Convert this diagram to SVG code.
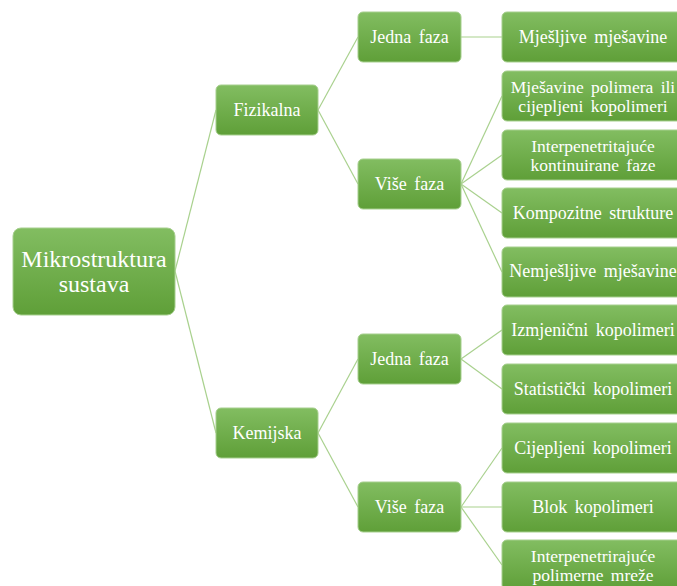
<svg xmlns="http://www.w3.org/2000/svg" width="677" height="586" viewBox="0 0 677 586">
<defs>
<linearGradient id="g" x1="0" y1="0" x2="0" y2="1">
<stop offset="0" stop-color="#82bd61"/>
<stop offset="1" stop-color="#5f9f38"/>
</linearGradient>
<style>
.n{fill:url(#g);stroke:#a6cf8e;stroke-width:1}
text{font-family:'Liberation Serif','Times New Roman',serif;fill:#fff;text-anchor:middle;font-size:18px;word-spacing:3px}
.d{font-size:17.5px}
.r{font-size:24px;word-spacing:0}
#connectors line{stroke:#a9d18e;stroke-width:1.2}
</style>
</defs>
<rect width="677" height="586" fill="#fff"/>
<g id="connectors">
<line x1="175" y1="271" x2="216" y2="110"/>
<line x1="175" y1="271" x2="216" y2="433"/>
<line x1="318" y1="110" x2="358" y2="37"/>
<line x1="318" y1="110" x2="358" y2="184"/>
<line x1="318" y1="433" x2="358" y2="359"/>
<line x1="318" y1="433" x2="358" y2="507"/>
<line x1="461" y1="37" x2="502" y2="37"/>
<line x1="461" y1="184" x2="502" y2="96"/>
<line x1="461" y1="184" x2="502" y2="155"/>
<line x1="461" y1="184" x2="502" y2="213"/>
<line x1="461" y1="184" x2="502" y2="272"/>
<line x1="461" y1="359" x2="502" y2="330"/>
<line x1="461" y1="359" x2="502" y2="389"/>
<line x1="461" y1="507" x2="502" y2="448"/>
<line x1="461" y1="507" x2="502" y2="507"/>
<line x1="461" y1="507" x2="502" y2="565"/>
</g>
<g id="root"><rect class="n" x="13" y="228" width="162" height="87" rx="8"/><text class="r" x="94" y="267">Mikrostruktura</text><text class="r" x="94" y="292">sustava</text></g>
<g id="fizikalna"><rect class="n" x="216" y="85" width="102" height="50" rx="5"/><text x="267" y="116">Fizikalna</text></g>
<g id="kemijska"><rect class="n" x="216" y="408" width="102" height="50" rx="5"/><text x="267" y="439">Kemijska</text></g>
<g id="f-jedna"><rect class="n" x="358" y="12" width="103" height="50" rx="5"/><text x="409.5" y="43">Jedna faza</text></g>
<g id="f-vise"><rect class="n" x="358" y="159" width="103" height="50" rx="5"/><text x="409.5" y="190">Više faza</text></g>
<g id="k-jedna"><rect class="n" x="358" y="334" width="103" height="50" rx="5"/><text x="409.5" y="365">Jedna faza</text></g>
<g id="k-vise"><rect class="n" x="358" y="482" width="103" height="50" rx="5"/><text x="409.5" y="513">Više faza</text></g>
<g id="l1"><rect class="n" x="502" y="12" width="182" height="50" rx="5"/><text x="593" y="43">Mješljive mješavine</text></g>
<g id="l2"><rect class="n" x="502" y="71" width="182" height="50" rx="5"/><text class="d" x="593" y="92.5">Mješavine polimera ili</text><text class="d" x="593" y="112">cijepljeni kopolimeri</text></g>
<g id="l3"><rect class="n" x="502" y="130" width="182" height="50" rx="5"/><text class="d" x="593" y="151.5">Interpenetritajuće</text><text class="d" x="593" y="171">kontinuirane faze</text></g>
<g id="l4"><rect class="n" x="502" y="188" width="182" height="50" rx="5"/><text x="593" y="219">Kompozitne strukture</text></g>
<g id="l5"><rect class="n" x="502" y="247" width="182" height="50" rx="5"/><text x="593" y="277">Nemješljive mješavine</text></g>
<g id="l6"><rect class="n" x="502" y="305" width="182" height="50" rx="5"/><text x="593" y="336">Izmjenični kopolimeri</text></g>
<g id="l7"><rect class="n" x="502" y="364" width="182" height="50" rx="5"/><text x="593" y="395">Statistički kopolimeri</text></g>
<g id="l8"><rect class="n" x="502" y="423" width="182" height="50" rx="5"/><text x="593" y="454">Cijepljeni kopolimeri</text></g>
<g id="l9"><rect class="n" x="502" y="482" width="182" height="50" rx="5"/><text x="593" y="513">Blok kopolimeri</text></g>
<g id="l10"><rect class="n" x="502" y="540" width="182" height="50" rx="5"/><text class="d" x="593" y="561.5">Interpenetrirajuće</text><text class="d" x="593" y="581">polimerne mreže</text></g>
</svg>
